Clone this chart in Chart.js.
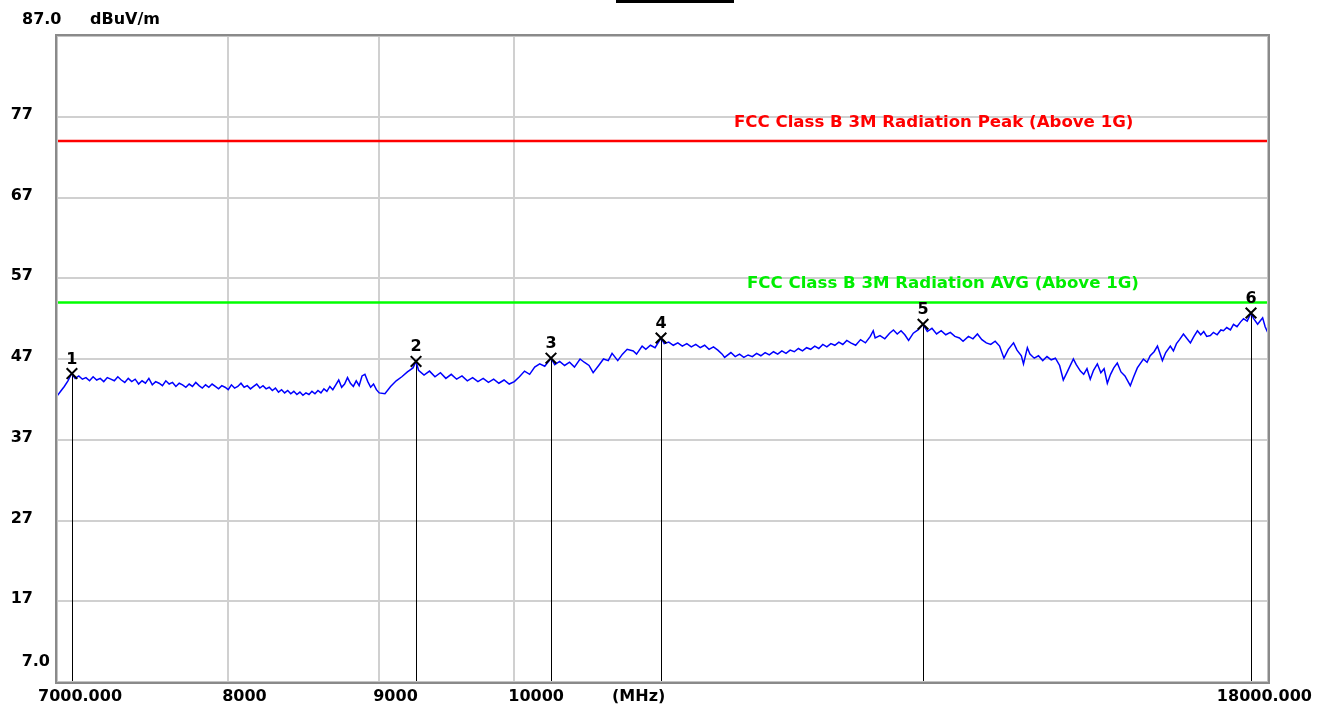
<!DOCTYPE html>
<html><head><meta charset="utf-8">
<script src="https://cdn.jsdelivr.net/npm/chart.js@4.4.1/dist/chart.umd.min.js"></script>
<style>html,body{margin:0;padding:0;background:#fff;overflow:hidden}#wrap{width:1325px;height:707px;position:relative}</style>
</head><body><div id="wrap"><canvas id="c"></canvas></div>
<script>
const freqMHz = [
7000,7020,7040,7060,7080,7100,7120,7140,7160,7180,7200,7220,7240,7260,7280,7300,7320,7340,7360,7380,
7400,7420,7440,7460,7480,7500,7520,7540,7560,7580,7600,7620,7640,7660,7680,7700,7720,7740,7760,7780,
7800,7820,7840,7860,7880,7900,7920,7940,7960,7980,8000,8020,8040,8060,8080,8100,8120,8140,8160,8180,
8200,8220,8240,8260,8280,8300,8320,8340,8360,8380,8400,8420,8440,8460,8480,8500,8520,8540,8560,8580,
8600,8620,8640,8660,8680,8700,8720,8740,8760,8780,8800,8820,8840,8860,8880,8900,8920,8940,8960,8980,9000,
9040,9080,9120,9160,9200,9240,9262,9280,9320,9360,9400,9440,9480,9520,9560,9600,9640,9680,9720,9760,
9800,9840,9880,9920,9960,10000,10040,10080,10120,10160,10200,10240,10290,10320,10360,10400,10440,10480,10526,10560,
10600,10634,10680,10720,10760,10792,10840,10880,10920,10972,11000,11048,11080,11120,11160,11212,11240,11280,11320,11360,
11400,11440,11480,11520,11560,11600,11640,11680,11720,11760,11782,11840,11880,11920,11960,12000,12040,12080,12120,12160,
12200,12240,12280,12320,12360,12400,12440,12480,12520,12560,12600,12640,12680,12720,12760,12800,12840,12880,12920,12960,13000,
13050,13100,13150,13200,13230,13250,13300,13350,13400,13440,13480,13520,13560,13600,13650,13700,13754,13800,13850,13900,
13950,14000,14050,14100,14150,14190,14250,14300,14350,14400,14450,14500,14550,14600,14650,14700,14760,14800,14850,14875,
14920,14950,15000,15050,15100,15150,15200,15250,15300,15344,15400,15465,15500,15550,15590,15630,15670,15710,15757,15800,
15840,15880,15920,15960,16004,16050,16100,16167,16210,16256,16333,16380,16420,16470,16513,16577,16620,16680,16720,16760,
16800,16851,16900,16943,16990,17036,17080,17120,17160,17209,17250,17300,17350,17386,17430,17480,17522,17570,17620,17660,
17710,17763,17800,17855,17890,17925,17960,17985,18000
];
const levelDb = [
42.4,43.0,43.6,44.3,45.2,44.6,44.9,44.5,44.7,44.3,44.8,44.4,44.6,44.2,44.7,44.5,44.3,44.8,44.4,44.1,
44.6,44.2,44.5,43.9,44.3,44.0,44.6,43.8,44.2,44.0,43.7,44.3,43.9,44.1,43.6,44.0,43.8,43.5,43.9,43.6,
44.1,43.7,43.4,43.8,43.5,43.9,43.6,43.3,43.7,43.5,43.2,43.8,43.4,43.6,44.0,43.5,43.7,43.3,43.6,43.9,
43.4,43.7,43.3,43.5,43.1,43.4,42.9,43.2,42.8,43.1,42.7,43.0,42.6,42.9,42.5,42.8,42.6,43.0,42.7,43.1,
42.8,43.3,43.0,43.6,43.2,43.8,44.4,43.5,43.9,44.7,44.0,43.6,44.3,43.7,44.9,45.1,44.2,43.5,43.9,43.2,42.8,
42.7,43.6,44.3,44.8,45.4,45.9,46.7,45.6,45.0,45.5,44.8,45.3,44.6,45.1,44.5,44.9,44.3,44.7,44.2,44.6,
44.1,44.5,44.0,44.4,43.9,44.2,44.8,45.5,45.1,46.0,46.4,46.1,47.1,46.3,46.7,46.2,46.6,46.0,47.0,46.6,
46.2,45.3,46.2,47.0,46.8,47.7,46.8,47.6,48.2,48.0,47.6,48.6,48.2,48.7,48.4,49.6,48.9,49.1,48.7,49.0,
48.6,48.9,48.5,48.8,48.4,48.7,48.2,48.5,48.1,47.6,47.2,47.8,47.3,47.6,47.2,47.5,47.3,47.7,47.4,47.8,
47.5,47.9,47.6,48.0,47.7,48.1,47.9,48.3,48.0,48.4,48.2,48.6,48.3,48.8,48.5,48.9,48.7,49.1,48.8,49.3,49.0,
48.7,49.4,49.0,49.8,50.5,49.6,49.9,49.5,50.2,50.6,50.1,50.5,50.0,49.3,50.2,50.6,51.3,50.4,50.8,50.1,
50.5,50.0,50.3,49.8,49.6,49.2,49.8,49.5,50.1,49.4,49.0,48.8,49.2,48.6,47.1,48.2,49.0,48.1,47.4,46.4,
48.4,47.6,47.1,47.4,46.8,47.3,46.9,47.1,46.2,44.4,45.6,47.0,46.3,45.5,45.1,45.8,44.5,45.6,46.4,45.3,
45.8,44.0,45.1,45.9,46.5,45.4,44.9,43.7,44.8,45.9,47.0,46.6,47.4,47.9,48.6,46.8,47.8,48.6,48.0,48.9,
49.4,50.1,49.5,49.0,49.8,50.5,50.0,50.4,49.8,49.9,50.3,50.0,50.6,50.5,50.9,50.6,51.3,51.0,51.6,52.0,
51.7,52.7,52.0,51.3,51.7,52.1,51.0,50.5,50.8
];
const markerFreq = [7082, 9262, 10290, 11212, 13754, 17763];
const markerLevel = [45.2, 46.7, 47.1, 49.6, 51.3, 52.7];
const markerNames = ['1','2','3','4','5','6'];
const peakLimit = 74;
const avgLimit = 54;
const peakLabel = 'FCC Class B 3M Radiation Peak (Above 1G)';
const avgLabel = 'FCC Class B 3M Radiation AVG (Above 1G)';
const yGridTicks = [17, 27, 37, 47, 57, 67, 77];
const xGridTicks = [8000, 9000, 10000];
const xTickValues = [7000, 8000, 9000, 10000, 18000];
const xTickLabels = ['7000.000', '8000', '9000', '10000', '18000.000'];
const unitX = '(MHz)';
const unitY = 'dBuV/m';
const yTopLabel = '87.0', yBottomLabel = '7.0';
const xMin = 7000, xMax = 18000, yMin = 7, yMax = 87;

const FONT = 'bold 16px "DejaVu Sans"';
const deco = {
  id: 'deco',
  beforeDraw(chart) {
    const c = chart.ctx;
    c.save(); c.fillStyle = '#fff'; c.fillRect(0, 0, chart.width, chart.height); c.restore();
  },
  beforeDatasetsDraw(chart) {
    const c = chart.ctx, xs = chart.scales.x, ys = chart.scales.y, a = chart.chartArea;
    c.save();
    c.strokeStyle = '#000'; c.lineWidth = 1;
    markerFreq.forEach((f, i) => {
      const px = Math.round(xs.getPixelForValue(f)) + 0.5;
      const py = ys.getPixelForValue(markerLevel[i]);
      c.beginPath(); c.moveTo(px, py); c.lineTo(px, a.bottom); c.stroke();
    });
    c.restore();
  },
  afterDraw(chart) {
    const c = chart.ctx, xs = chart.scales.x, ys = chart.scales.y, a = chart.chartArea;
    c.save();
    // frame
    c.strokeStyle = '#8a8a8a'; c.lineWidth = 2;
    c.strokeRect(a.left - 1, a.top - 1, a.right - a.left + 2, a.bottom - a.top + 2);
    c.strokeStyle = '#c4c4c4'; c.lineWidth = 1;
    c.strokeRect(a.left + 0.5, a.top + 0.5, a.right - a.left - 1, a.bottom - a.top - 1);
    // title bar
    c.fillStyle = '#000'; c.fillRect(616, 0, 118, 3);
    c.font = FONT; c.fillStyle = '#000';
    // marker numbers
    c.textAlign = 'center'; c.textBaseline = 'alphabetic';
    markerFreq.forEach((f, i) => {
      c.fillText(markerNames[i], xs.getPixelForValue(f), ys.getPixelForValue(markerLevel[i]) - 10);
    });
    // y labels
    c.textAlign = 'right'; c.textBaseline = 'middle';
    yGridTicks.forEach(v => c.fillText(String(v), 33, ys.getPixelForValue(v) - 2));
    c.fillText(yBottomLabel, 50, ys.getPixelForValue(yMin) - 20);
    c.textAlign = 'left'; c.textBaseline = 'alphabetic';
    c.fillText(yTopLabel, 22, 24);
    c.fillText(unitY, 90, 24);
    // x labels
    const base = a.bottom + 19;
    xTickValues.forEach((v, i) => {
      const px = xs.getPixelForValue(v);
      if (i === 0) { c.textAlign = 'left'; c.fillText(xTickLabels[i], px - 19, base); }
      else if (i === xTickValues.length - 1) { c.textAlign = 'right'; c.fillText(xTickLabels[i], px + 44, base); }
      else { c.textAlign = 'left'; c.fillText(xTickLabels[i], px - 6, base); }
    });
    c.textAlign = 'left';
    c.fillText(unitX, a.left + 555, base);
    // limit labels
    c.font = 'bold 16.6px "DejaVu Sans"';
    c.fillStyle = '#ff0000';
    c.fillText(peakLabel, a.left + 677, ys.getPixelForValue(peakLimit) - 14);
    c.fillStyle = '#00ee00';
    c.fillText(avgLabel, a.left + 690, ys.getPixelForValue(avgLimit) - 14);
    c.restore();
  }
};

new Chart(document.getElementById('c'), {
  type: 'line',
  data: {
    datasets: [
      { data: [{x: xMin, y: peakLimit}, {x: xMax, y: peakLimit}], borderColor: '#ff0000', borderWidth: 2.5, pointRadius: 0, order: 3 },
      { data: [{x: xMin, y: avgLimit}, {x: xMax, y: avgLimit}], borderColor: '#00ff00', borderWidth: 2.5, pointRadius: 0, order: 3 },
      { data: freqMHz.map((f, i) => ({x: f, y: levelDb[i]})), borderColor: '#0000ff', borderWidth: 1.5, pointRadius: 0, tension: 0, order: 2 },
      { data: markerFreq.map((f, i) => ({x: f, y: markerLevel[i]})), showLine: false, pointStyle: 'crossRot', pointRadius: 7.5, pointBorderWidth: 2, pointBorderColor: '#000', borderColor: '#000', order: 1 }
    ]
  },
  options: {
    responsive: true, maintainAspectRatio: false, animation: false, devicePixelRatio: 1,
    layout: { padding: { left: 57, right: 57, top: 36, bottom: 25 } },
    plugins: { legend: { display: false }, tooltip: { enabled: false }, title: { display: false } },
    scales: {
      x: { type: 'logarithmic', min: xMin, max: xMax,
           afterBuildTicks: s => { s.ticks = xGridTicks.map(v => ({value: v})); },
           ticks: { display: false }, border: { display: false },
           grid: { color: '#d0d0d0', lineWidth: 2, drawTicks: false } },
      y: { type: 'linear', min: yMin, max: yMax,
           afterBuildTicks: s => { s.ticks = yGridTicks.map(v => ({value: v})); },
           ticks: { display: false }, border: { display: false },
           grid: { color: '#d0d0d0', lineWidth: 2, drawTicks: false } }
    }
  },
  plugins: [deco]
});
</script></body></html>
